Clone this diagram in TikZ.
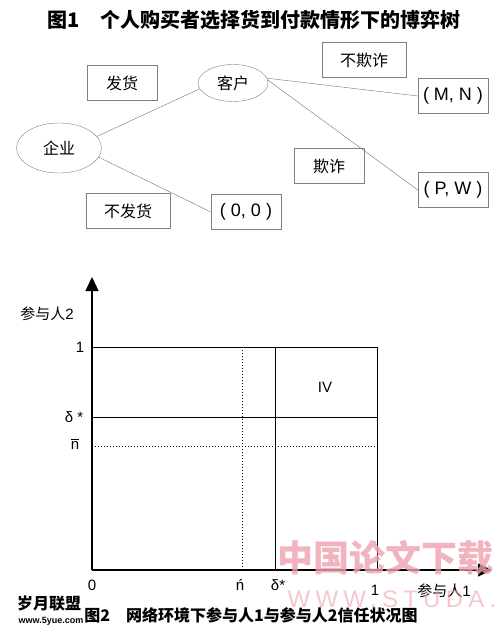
\documentclass[tikz,border=0pt]{standalone}
\usepackage{fontspec}
\setmainfont{Liberation Sans}
\newfontfamily\cjk{Noto Sans CJK SC}
\usetikzlibrary{shapes.geometric,arrows.meta}
\definecolor{wmpink}{RGB}{238,160,172}

\begin{document}
\begin{tikzpicture}[x=1pt,y=-1pt,
  player/.style={ellipse,draw=gray,thin,font=\cjk\fontsize{16}{16}\selectfont},
  labelbox/.style={draw=gray,thin,minimum width=70pt,minimum height=35pt,font=\cjk\fontsize{16}{16}\selectfont},
  payoff/.style={labelbox,font=\fontsize{18}{18}\selectfont},
  branch/.style={gray!90!black,thin},
  axis/.style={line width=1.2pt,-{Triangle[length=14pt,width=13pt]}},
  gridline/.style={line width=1pt},
  gridfaint/.style={line width=1pt,dotted},
  caption/.style={font=\cjk\bfseries\fontsize{20}{20}\selectfont},
  lbl/.style={font=\fontsize{15}{15}\selectfont}]
\useasboundingbox (0,0) rectangle (500,631);

% figure 1: game tree
\node[caption] (title1) at (254,20) {图1\quad 个人购买者选择货到付款情形下的博弈树};
\node[player,minimum width=85pt,minimum height=50pt] (firm) at (59,148) {企业};
\node[player,minimum width=70pt,minimum height=37pt] (buyer) at (233,83) {客户};
\node[labelbox] (ship) at (122,83) {发货};
\node[labelbox,minimum width=84pt] (noship) at (128,211) {不发货};
\node[labelbox,minimum width=84pt] (honest) at (364,60) {不欺诈};
\node[labelbox] (cheat) at (329,166) {欺诈};
\node[payoff] (mn) at (453,96) {( M, N )};
\node[payoff] (pw) at (453,190) {( P, W )};
\node[payoff] (zero) at (246,212) {( 0, 0 )};
\draw[branch] (firm.17) -- (buyer.190);
\draw[branch] (firm.-13) -- (zero.west);
\draw[branch] (buyer.8) -- (mn.west);
\draw[branch] (buyer.5) -- (pw.west);

% figure 2: trust regions
\coordinate (O) at (92,570);
\draw[axis] (O) -- (92,277);
\draw[axis] (O) -- (492,570);
\draw[gridline] (92,347) -- (377,347) -- (377,570);
\draw[gridline] (92,417) -- (377,417);
\draw[gridline] (275,347) -- (275,570);
\draw[gridfaint] (242,347) -- (242,570);
\draw[gridfaint] (92,446) -- (377,446);
\node[lbl] (ylab) at (47,314) {{\cjk 参与人}2};
\node[lbl] (yone) at (80,347) {1};
\node[lbl] (ydelta) at (74,417) {δ *};
\node[lbl] (ynbar) at (75,444) {$\overline{\mbox{n}}$};
\node[lbl] (xzero) at (92,585) {0};
\node[lbl] (xn) at (240,585) {ń};
\node[lbl] (xdelta) at (278,585) {δ*};
\node[lbl] (xone) at (375,590) {1};
\node[lbl] (xlab) at (444,591) {{\cjk 参与人}1};
\node[lbl] (iv) at (325,387) {IV};
\node[caption,font=\cjk\bfseries\fontsize{16}{16}\selectfont] (title2) at (251,615) {图2\quad 网络环境下参与人1与参与人2信任状况图};

% watermarks
\node[text=wmpink,opacity=0.8,font=\cjk\bfseries\fontsize{36}{36}\selectfont] (wmcn) at (385,558) {中国论文下载};
\node[text=wmpink,opacity=0.6,font=\fontsize{24}{24}\selectfont\addfontfeature{LetterSpace=22}] (wmurl) at (392,599) {WWW.STUDA.};
\node[font=\cjk\bfseries\fontsize{16}{16}\selectfont] (site) at (49,604) {岁月联盟};
\node[font=\bfseries\fontsize{9}{9}\selectfont] (siteurl) at (51,621) {www.5yue.com};
\end{tikzpicture}
\end{document}
